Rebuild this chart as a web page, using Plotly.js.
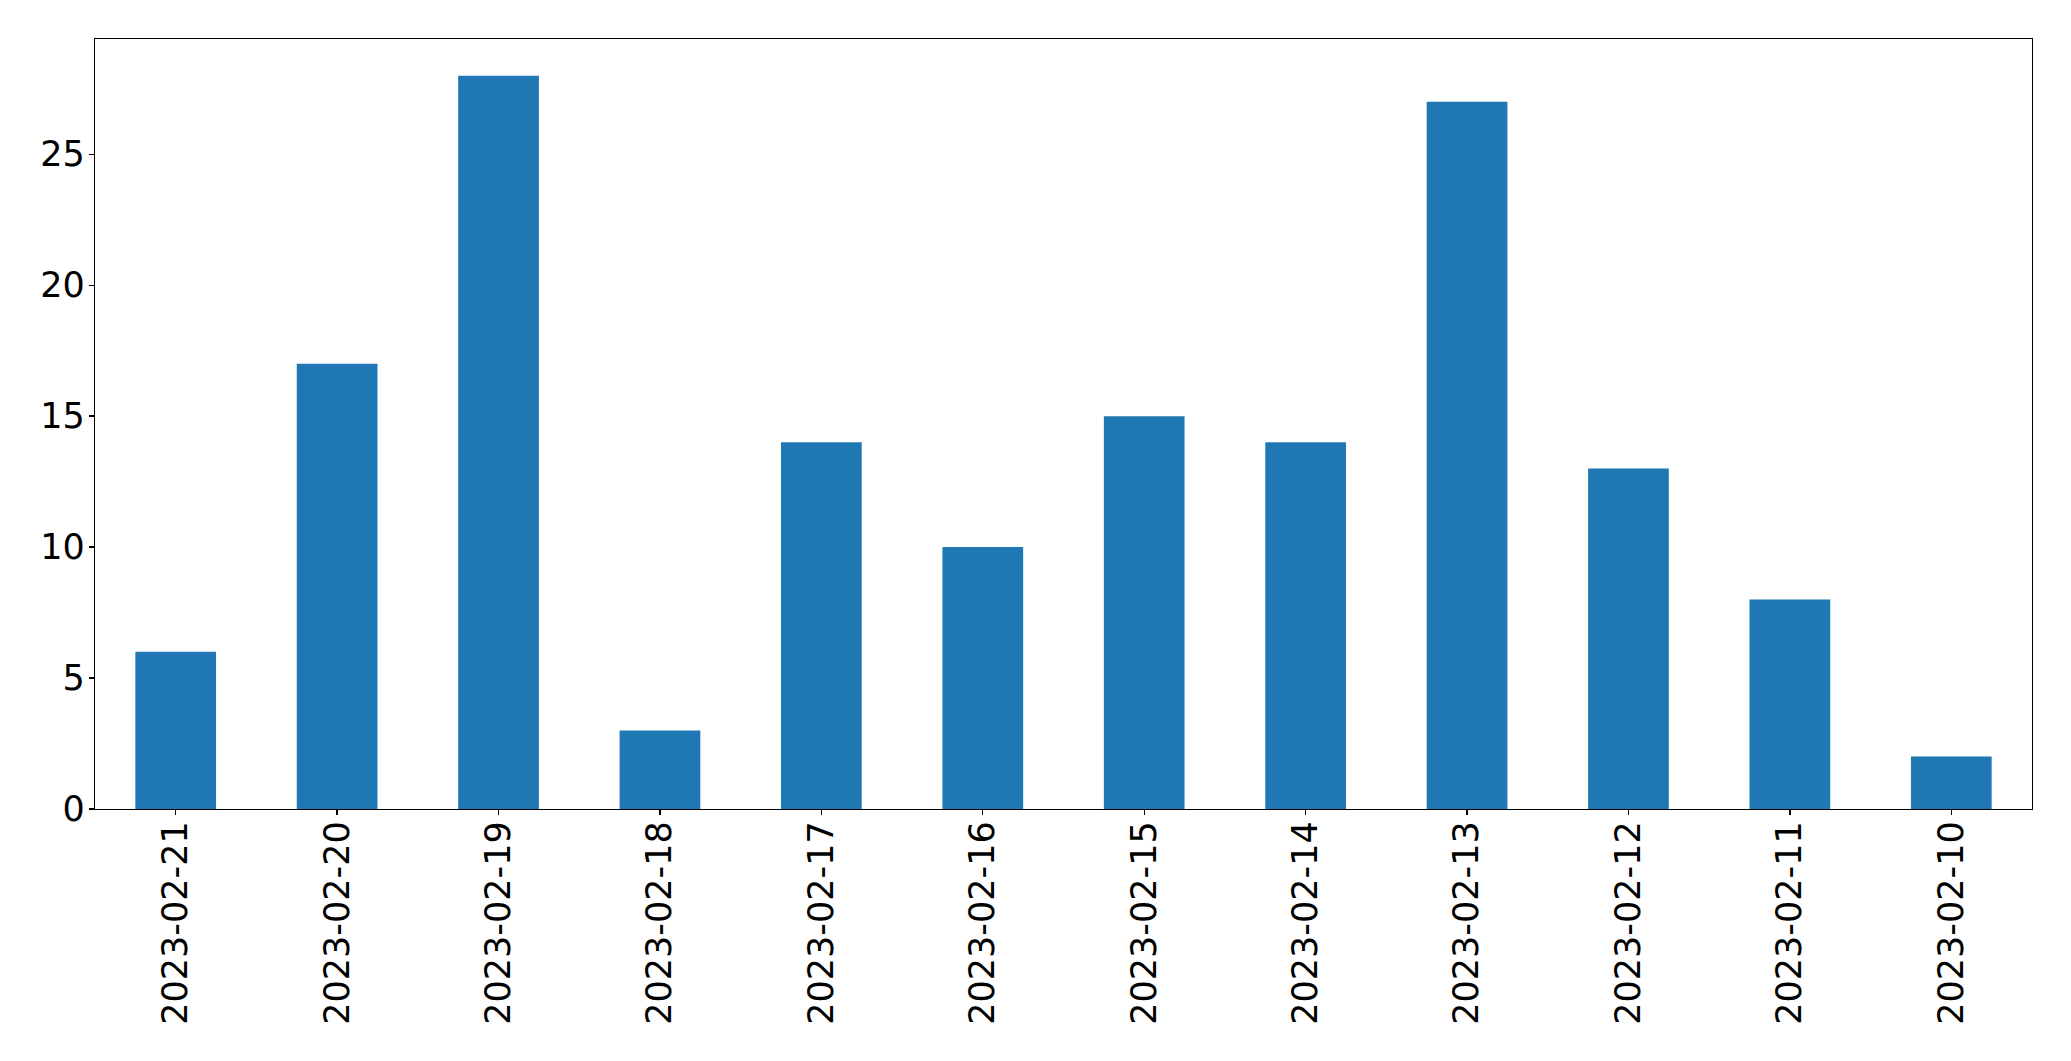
<!DOCTYPE html>
<html>
<head>
<meta charset="utf-8">
<script src="https://cdn.plot.ly/plotly-3.0.1.min.js"></script>
<style>html,body{margin:0;padding:0;background:#fff;}#chart{width:2071px;height:1061px;}</style>
</head>
<body>
<div id="chart"></div>
<script>
const dates = ["2023-02-21","2023-02-20","2023-02-19","2023-02-18","2023-02-17","2023-02-16","2023-02-15","2023-02-14","2023-02-13","2023-02-12","2023-02-11","2023-02-10"];
const counts = [6, 17, 28, 3, 14, 10, 15, 14, 27, 13, 8, 2];
const yTicks = [0, 5, 10, 15, 20, 25];

const trace = {
  type: "bar",
  x: dates,
  y: counts,
  marker: {color: "#1f77b4", line: {width: 0}},
  hoverinfo: "x+y"
};

const layout = {
  width: 2071,
  height: 1061,
  paper_bgcolor: "#ffffff",
  plot_bgcolor: "#ffffff",
  margin: {l: 95, r: 39, t: 39, b: 252, pad: 0},
  bargap: 0.5,
  showlegend: false,
  font: {family: "DejaVu Sans", color: "#000000", size: 35},
  xaxis: {
    type: "category",
    range: [-0.5, 11.5],
    tickangle: -90,
    ticks: "outside",
    ticklen: 5,
    tickwidth: 1.3,
    tickcolor: "#000",
    showline: true,
    linecolor: "#000",
    linewidth: 1.3,
    mirror: true,
    showgrid: false,
    zeroline: false,
    ticklabelstandoff: -8,
    tickfont: {family: "DejaVu Sans", size: 35, color: "#000"}
  },
  yaxis: {
    range: [0, 29.4],
    tickvals: yTicks,
    ticktext: yTicks.map(String),
    ticks: "outside",
    ticklen: 5,
    tickwidth: 1.3,
    tickcolor: "#000",
    showline: true,
    linecolor: "#000",
    linewidth: 1.3,
    mirror: true,
    showgrid: false,
    zeroline: false,
    ticklabelstandoff: -3,
    tickfont: {family: "DejaVu Sans", size: 35, color: "#000"}
  }
};

Plotly.newPlot("chart", [trace], layout, {displayModeBar: false, staticPlot: true});
</script>
</body>
</html>
